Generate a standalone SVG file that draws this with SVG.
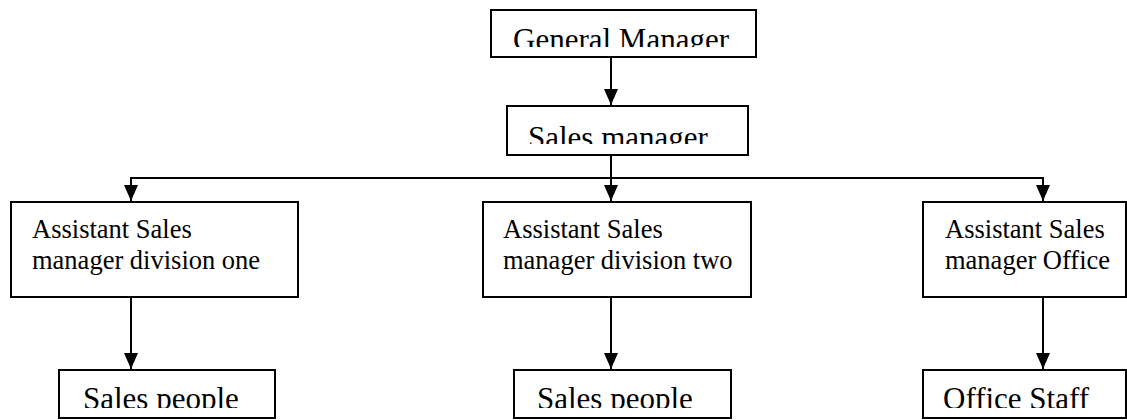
<svg xmlns="http://www.w3.org/2000/svg" width="1127" height="420" viewBox="0 0 1127 420">
<style>
.box{fill:#fff;stroke:#000;stroke-width:2}
.big{font-family:"Liberation Serif","Times New Roman",serif;font-size:31px;fill:#000}
.mid{font-family:"Liberation Serif","Times New Roman",serif;font-size:26.5px;fill:#000}
.ln{fill:none;stroke:#000;stroke-width:2}
</style>
<defs>
<marker id="ah" markerUnits="userSpaceOnUse" markerWidth="16" markerHeight="14" refX="16" refY="7" orient="auto" viewBox="0 0 16 14">
<path d="M0,0 L16,7 L0,14 Z" fill="#000"/>
</marker>
<clipPath id="c1"><rect x="491" y="10" width="265" height="37"/></clipPath>
<clipPath id="c2"><rect x="507" y="106" width="241" height="38"/></clipPath>
<clipPath id="c3"><rect x="0" y="370" width="1127" height="38"/></clipPath>
</defs>
<g id="connectors">
<line class="ln" x1="611" y1="57" x2="611" y2="105" marker-end="url(#ah)"/>
<line class="ln" x1="611" y1="155" x2="611" y2="178"/>
<line class="ln" x1="130" y1="178" x2="1044" y2="178"/>
<line class="ln" x1="131" y1="177" x2="131" y2="201" marker-end="url(#ah)"/>
<line class="ln" x1="611" y1="177" x2="611" y2="201" marker-end="url(#ah)"/>
<line class="ln" x1="1043" y1="177" x2="1043" y2="201" marker-end="url(#ah)"/>
<line class="ln" x1="131" y1="297" x2="131" y2="369" marker-end="url(#ah)"/>
<line class="ln" x1="611" y1="297" x2="611" y2="369" marker-end="url(#ah)"/>
<line class="ln" x1="1043" y1="297" x2="1043" y2="369" marker-end="url(#ah)"/>
</g>
<g id="general-manager">
<rect class="box" x="491" y="10" width="265" height="47"/>
<text class="big" x="513" y="49.5" clip-path="url(#c1)">General Manager</text>
</g>
<g id="sales-manager">
<rect class="box" x="507" y="106" width="241" height="49"/>
<text class="big" x="528" y="147.5" clip-path="url(#c2)">Sales manager</text>
</g>
<g id="asm-one">
<rect class="box" x="11" y="202" width="287" height="95"/>
<text class="mid" x="32" y="237.5">Assistant Sales</text>
<text class="mid" x="32" y="269">manager division one</text>
</g>
<g id="asm-two">
<rect class="box" x="483" y="202" width="268" height="95"/>
<text class="mid" x="503" y="237.5">Assistant Sales</text>
<text class="mid" x="503" y="269">manager division two</text>
</g>
<g id="asm-office">
<rect class="box" x="923" y="202" width="203" height="95"/>
<text class="mid" x="945" y="237.5">Assistant Sales</text>
<text class="mid" x="945" y="269">manager Office</text>
</g>
<g id="sales-people-one">
<rect class="box" x="59" y="370" width="216" height="48"/>
<text class="big" x="83" y="408.5" clip-path="url(#c3)">Sales people</text>
</g>
<g id="sales-people-two">
<rect class="box" x="514" y="370" width="217" height="48"/>
<text class="big" x="537" y="408.5" clip-path="url(#c3)">Sales people</text>
</g>
<g id="office-staff">
<rect class="box" x="923" y="370" width="203" height="48"/>
<text class="big" x="943" y="408.5" clip-path="url(#c3)">Office Staff</text>
</g>
</svg>
